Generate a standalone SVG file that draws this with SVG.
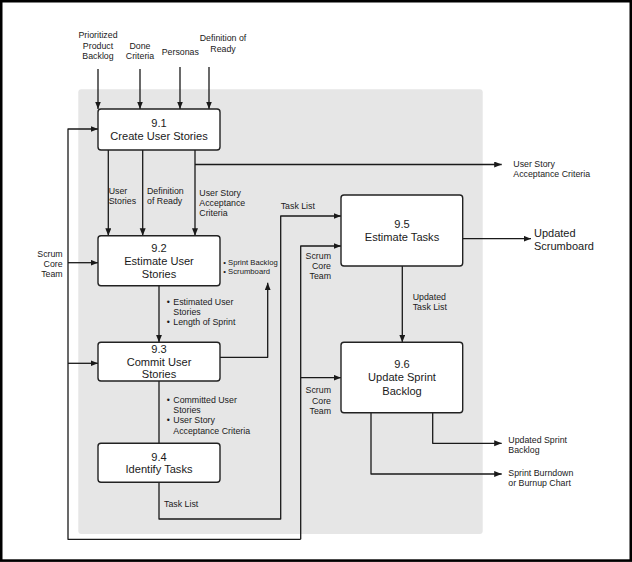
<svg xmlns="http://www.w3.org/2000/svg" width="632" height="562" viewBox="0 0 632 562">
<defs>
<marker id="ah" markerUnits="userSpaceOnUse" markerWidth="8" markerHeight="7" refX="7.5" refY="3" orient="auto">
<path d="M0,0 L7.5,3 L0,6 z" fill="#1a1a1a"/>
</marker>
<style>
text{font-family:"Liberation Sans",Arial,sans-serif;fill:#1a1a1a}
.box{fill:#fff;stroke:#222;stroke-width:1.4}
.bt{font-size:11.1px;text-anchor:middle}
.lb{font-size:8.8px}
.sm{font-size:7.7px}
.mid{text-anchor:middle}
.end{text-anchor:end}
.ln{fill:none;stroke:#1a1a1a;stroke-width:1.3;stroke-linejoin:round}
.ar{marker-end:url(#ah)}
</style>
</defs>
<rect x="0" y="0" width="632" height="562" fill="#fff"/>
<rect x="78.3" y="89.3" width="404.4" height="444.7" rx="3" fill="#e6e6e6"/>

<g id="connectors">
<path class="ln ar" d="M98,69 V109"/>
<path class="ln ar" d="M140,69 V109"/>
<path class="ln ar" d="M180,67 V109"/>
<path class="ln ar" d="M209,67 V109"/>
<path class="ln ar" d="M108.3,150 V235.7"/>
<path class="ln ar" d="M142.7,150 V235.7"/>
<path class="ln ar" d="M195,150 V235.7"/>
<path class="ln ar" d="M195,164.5 H501.7"/>
<path class="ln ar" d="M300.7,539.3 H68 V129 H98"/>
<path class="ln ar" d="M68,262.7 H98"/>
<path class="ln ar" d="M68,363.3 H98"/>
<path class="ln ar" d="M300.7,539.3 V246 H341"/>
<path class="ln ar" d="M300.7,377.7 H341"/>
<path class="ln ar" d="M159,285.7 V342.3"/>
<path class="ln" d="M159,381 V443.3"/>
<path class="ln ar" d="M159,482.3 V519 H280.7 V216 H341"/>
<path class="ln ar" d="M220,357.3 H267.7 V282.7"/>
<path class="ln ar" d="M462.7,238.7 H531"/>
<path class="ln ar" d="M402.3,266 V342.3"/>
<path class="ln ar" d="M432.7,412.7 V443.3 H501.7"/>
<path class="ln ar" d="M371,412.7 V474 H501.7"/>
</g>

<g id="labels">
<text class="lb mid" x="98" y="38.2">Prioritized</text>
<text class="lb mid" x="98" y="49.2">Product</text>
<text class="lb mid" x="98" y="59.2">Backlog</text>
<text class="lb mid" x="140" y="49.2">Done</text>
<text class="lb mid" x="140" y="59.2">Criteria</text>
<text class="lb mid" x="180.3" y="55.2">Personas</text>
<text class="lb mid" x="223" y="41.2">Definition of</text>
<text class="lb mid" x="223" y="52.2">Ready</text>

<text class="lb" x="108.7" y="193.9">User</text>
<text class="lb" x="108.7" y="203.9">Stories</text>
<text class="lb" x="147" y="194">Definition</text>
<text class="lb" x="147" y="204.2">of Ready</text>
<text class="lb" x="199.3" y="195.9">User Story</text>
<text class="lb" x="199.3" y="206">Acceptance</text>
<text class="lb" x="199.3" y="216.1">Criteria</text>

<text class="lb" x="513.3" y="166.5">User Story</text>
<text class="lb" x="513.3" y="176.9">Acceptance Criteria</text>

<text class="lb end" x="62.7" y="256.5">Scrum</text>
<text class="lb end" x="62.7" y="266.5">Core</text>
<text class="lb end" x="62.7" y="276.5">Team</text>

<text class="sm" x="223.3" y="264.5">• Sprint Backlog</text>
<text class="sm" x="223.3" y="273.5">• Scrumboard</text>

<text class="lb" x="166.7" y="304.9"><tspan>•</tspan><tspan x="173.3">Estimated User</tspan></text>
<text class="lb" x="173.3" y="315.2">Stories</text>
<text class="lb" x="166.7" y="325.2"><tspan>•</tspan><tspan x="173.3">Length of Sprint</tspan></text>

<text class="lb" x="166.7" y="402.5"><tspan>•</tspan><tspan x="173.3">Committed User</tspan></text>
<text class="lb" x="173.3" y="412.9">Stories</text>
<text class="lb" x="166.7" y="423.2"><tspan>•</tspan><tspan x="173.3">User Story</tspan></text>
<text class="lb" x="173.3" y="433.9">Acceptance Criteria</text>

<text class="lb" x="164" y="506.5">Task List</text>
<text class="lb" x="280.7" y="208.9">Task List</text>

<text class="lb end" x="331" y="258.9">Scrum</text>
<text class="lb end" x="331" y="269.2">Core</text>
<text class="lb end" x="331" y="279.2">Team</text>

<text class="lb end" x="331" y="393.2">Scrum</text>
<text class="lb end" x="331" y="403.9">Core</text>
<text class="lb end" x="331" y="413.9">Team</text>

<text class="lb" x="412.7" y="299.9">Updated</text>
<text class="lb" x="412.7" y="309.9">Task List</text>

<text style="font-size:11px" x="534" y="237.2">Updated</text>
<text style="font-size:11px" x="534" y="249.9">Scrumboard</text>

<text class="lb" x="508.3" y="442.5">Updated Sprint</text>
<text class="lb" x="508.3" y="452.9">Backlog</text>
<text class="lb" x="508.3" y="475.9">Sprint Burndown</text>
<text class="lb" x="508.3" y="486.2">or Burnup Chart</text>
</g>

<g id="n91">
<rect class="box" x="98" y="109" width="122" height="41" rx="3"/>
<text class="bt" x="159" y="127">9.1</text>
<text class="bt" x="159" y="140">Create User Stories</text>
</g>
<g id="n92">
<rect class="box" x="98" y="235.7" width="122" height="50" rx="3"/>
<text class="bt" x="159" y="252.2">9.2</text>
<text class="bt" x="159" y="265">Estimate User</text>
<text class="bt" x="159" y="278">Stories</text>
</g>
<g id="n93">
<rect class="box" x="98" y="342.3" width="122" height="38.7" rx="3"/>
<text class="bt" x="159" y="353">9.3</text>
<text class="bt" x="159" y="365.6">Commit User</text>
<text class="bt" x="159" y="378">Stories</text>
</g>
<g id="n94">
<rect class="box" x="98" y="443.3" width="122" height="39" rx="3"/>
<text class="bt" x="159" y="460.6">9.4</text>
<text class="bt" x="159" y="473.2">Identify Tasks</text>
</g>
<g id="n95">
<rect class="box" x="341" y="195" width="121.7" height="71" rx="3"/>
<text class="bt" x="402" y="227.9">9.5</text>
<text class="bt" x="402" y="241.2">Estimate Tasks</text>
</g>
<g id="n96">
<rect class="box" x="341" y="342.3" width="121.7" height="70.4" rx="3"/>
<text class="bt" x="402" y="367.9">9.6</text>
<text class="bt" x="402" y="381.2">Update Sprint</text>
<text class="bt" x="402" y="394.6">Backlog</text>
</g>

<rect x="1.2" y="1.2" width="629.6" height="559.4" fill="none" stroke="#000" stroke-width="2.6"/>
</svg>
